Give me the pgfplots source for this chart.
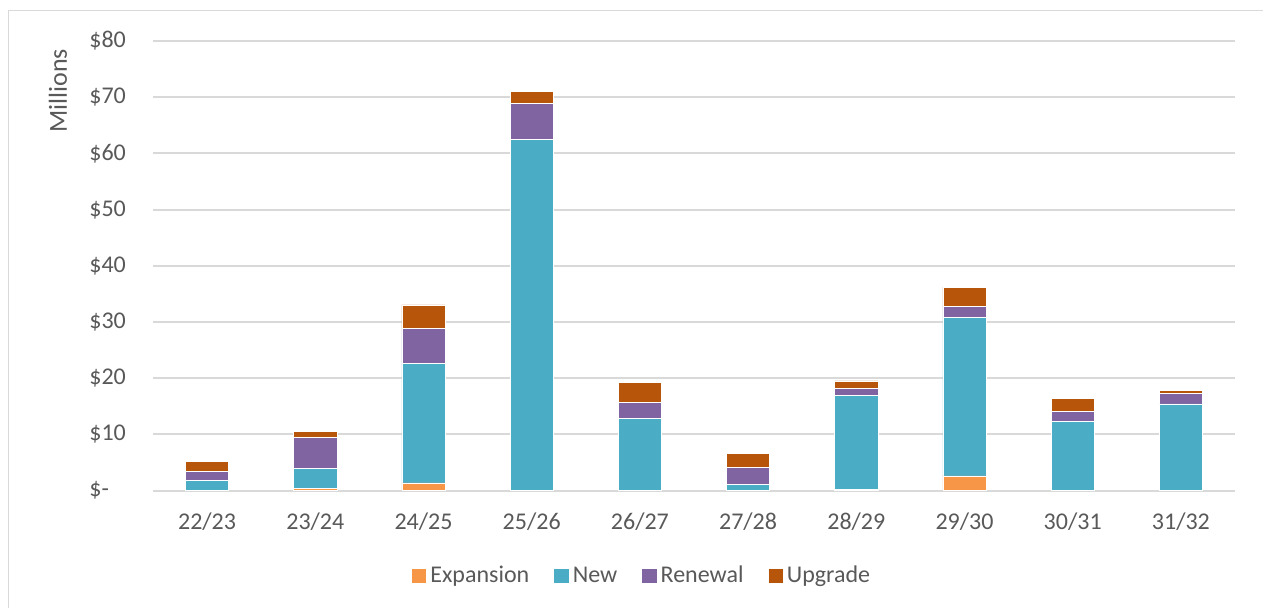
\documentclass[border=0pt]{standalone}
\usepackage{pgfplots}
\pgfplotsset{compat=1.18}
\usepackage{fontspec}
\setmainfont{Carlito}
\definecolor{cExp}{HTML}{F79646}
\definecolor{cNew}{HTML}{4BACC6}
\definecolor{cRen}{HTML}{8064A2}
\definecolor{cUpg}{HTML}{B7560A}
\definecolor{cGrid}{HTML}{D9D9D9}
\definecolor{cText}{HTML}{595959}
\begin{document}
\begin{tikzpicture}
\useasboundingbox (-76.5bp,-58.65bp) rectangle (555bp,245.35bp);
\draw[cGrid, line width=0.75bp] (-72.25bp,-60bp) -- (-72.25bp,240.1bp) -- (556bp,240.1bp);
\begin{axis}[
  at={(0,0)}, anchor=south west,
  scale only axis, width=541bp, height=224.85bp,
  ybar stacked, bar width=0.4,
  xmin=-0.5, xmax=9.5, ymin=0, ymax=80,
  enlargelimits=false,
  xtick={0,...,9},
  xticklabels={22/23,23/24,24/25,25/26,26/27,27/28,28/29,29/30,30/31,31/32},
  ytick={0,10,...,80},
  yticklabels={\$-,\$10,\$20,\$30,\$40,\$50,\$60,\$70,\$80},
  major tick length=0pt,
  axis line style={draw=none},
  ymajorgrids, grid style={cGrid, line width=1bp},
  tick label style={font=\fontsize{12bp}{14bp}\selectfont, text=cText},
  yticklabel style={anchor=west, xshift=-32bp, inner sep=0pt},
  xticklabel style={yshift=-7.5bp},
  ylabel={Millions},
  ylabel style={at={(rel axis cs:0,0.889)}, anchor=center, yshift=47.5bp, font=\fontsize{13bp}{15bp}\selectfont, text=cText},
  legend columns=4,
  legend style={at={(0.452,-0.19)}, anchor=center, draw=none, fill=none,
    font=\fontsize{12bp}{14bp}\selectfont, text=cText,
    nodes={inner sep=1bp},
    /tikz/every even column/.append style={column sep=11.5bp},
    /tikz/every odd column/.append style={column sep=1bp}},
  legend image code/.code={\fill[#1, draw=none] (0bp,-3.6bp) rectangle (7.2bp,3.6bp);},
  every axis plot/.append style={draw=white, line width=0.3bp},
]
\addplot[fill=cExp] coordinates {(0,0) (1,0.4) (2,1.4) (3,0) (4,0) (5,0) (6,0.25) (7,2.65) (8,0) (9,0)};
\addplot[fill=cNew] coordinates {(0,1.9) (1,3.6) (2,21.2) (3,62.5) (4,12.9) (5,1.1) (6,16.75) (7,28.2) (8,12.4) (9,15.45)};
\addplot[fill=cRen] coordinates {(0,1.55) (1,5.45) (2,6.3) (3,6.4) (4,2.85) (5,3.1) (6,1.2) (7,2.0) (8,1.7) (9,1.9)};
\addplot[fill=cUpg] coordinates {(0,1.7) (1,1.15) (2,4.15) (3,2.1) (4,3.55) (5,2.45) (6,1.35) (7,3.35) (8,2.3) (9,0.55)};
\legend{Expansion,New,Renewal,Upgrade}
\end{axis}
\end{tikzpicture}
\end{document}
